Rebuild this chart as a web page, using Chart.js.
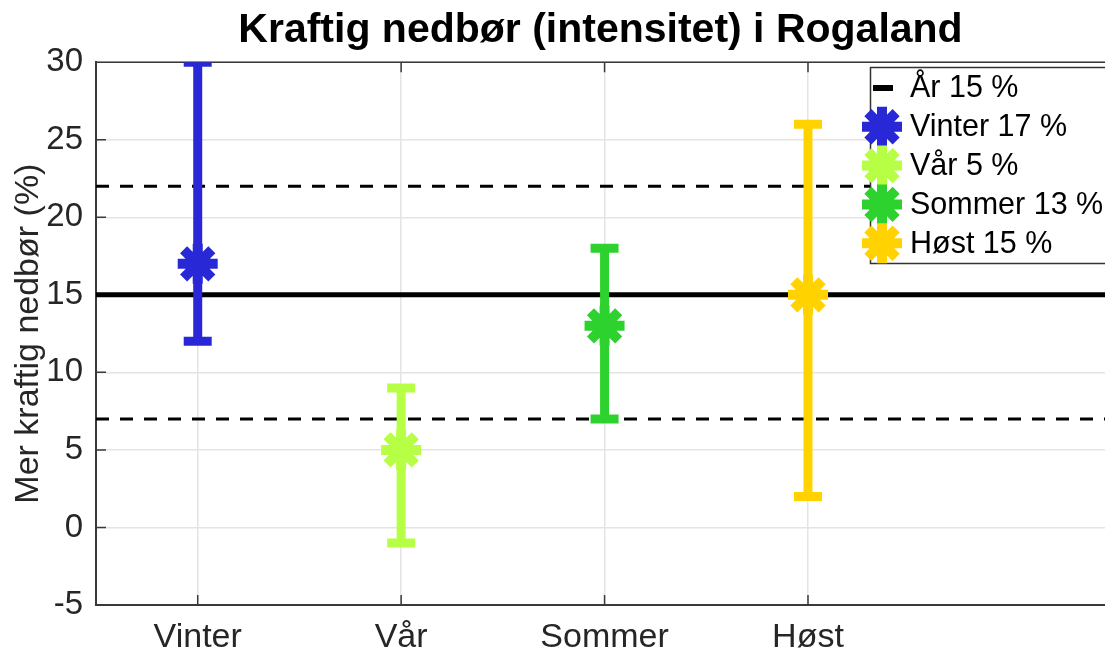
<!DOCTYPE html>
<html>
<head>
<meta charset="utf-8">
<script src="https://cdn.jsdelivr.net/npm/chart.js@4.4.1/dist/chart.umd.min.js"></script>
<style>
  html, body { margin: 0; padding: 0; background: #fff; }
  #wrap { width: 1105px; height: 651px; }
</style>
</head>
<body>
<div id="wrap"><canvas id="c" width="1105" height="651"></canvas></div>
<script>
// ---- data ----
const categories = ['Vinter', 'Vår', 'Sommer', 'Høst'];
const means = [17, 5, 13, 15];
const lows = [12, -1, 7, 2];
const highs = [30, 9, 18, 26];
const seasonColors = ['#2828d6', '#b6ff44', '#2ed22e', '#ffd200'];
const annualLabel = 'År';
const annualMean = 15;
const annualLow = 7;
const annualHigh = 22;
const yTickValues = [-5, 0, 5, 10, 15, 20, 25, 30];
const titleText = 'Kraftig nedbør (intensitet) i Rogaland';
const yTitle = 'Mer kraftig nedbør (%)';

const FONT = "'Liberation Sans', Arial, Helvetica, sans-serif";
const xMin = 0.5, xMax = 5.46;

const datasets = [];
datasets.push({
  type: 'line', label: annualLabel + ' ' + annualMean + ' %',
  data: [{x: xMin, y: annualMean}, {x: xMax, y: annualMean}],
  borderColor: '#000', borderWidth: 5, pointRadius: 0, order: 10
});
[annualLow, annualHigh].forEach(v => datasets.push({
  type: 'line', label: 'ci',
  data: [{x: xMin, y: v}, {x: xMax, y: v}],
  borderColor: '#000', borderWidth: 3, borderDash: [13, 11], pointRadius: 0, order: 10
}));
categories.forEach((c, i) => {
  datasets.push({
    type: 'line', label: 'err' + c,
    data: [{x: i + 1, y: lows[i]}, {x: i + 1, y: highs[i]}],
    borderColor: seasonColors[i], backgroundColor: seasonColors[i],
    borderWidth: 9, pointStyle: 'line', pointRadius: 14, pointBorderWidth: 9,
    pointBorderColor: seasonColors[i], pointHoverRadius: 14, order: 5
  });
  datasets.push({
    type: 'scatter', label: c + ' ' + means[i] + ' %',
    data: [{x: i + 1, y: means[i]}],
    borderColor: seasonColors[i], backgroundColor: seasonColors[i],
    pointStyle: 'star', pointRadius: 20, pointBorderWidth: 10, pointHoverRadius: 20,
    order: 1
  });
});

const frame = {
  id: 'frame',
  beforeDatasetsDraw(chart) {
    const {ctx, chartArea: a, scales: {x, y}} = chart;
    ctx.save();
    ctx.strokeStyle = '#3a3a3a';
    ctx.lineWidth = 1.5;
    ctx.beginPath();
    ctx.moveTo(a.left, a.top); ctx.lineTo(a.right, a.top);
    categories.forEach((c, i) => {
      const px = x.getPixelForValue(i + 1);
      ctx.moveTo(px, a.bottom); ctx.lineTo(px, a.bottom - 10);
      ctx.moveTo(px, a.top); ctx.lineTo(px, a.top + 10);
    });
    yTickValues.forEach(v => {
      const py = y.getPixelForValue(v);
      ctx.moveTo(a.left, py); ctx.lineTo(a.left + 10, py);
    });
    ctx.stroke();
    ctx.restore();
  },
  afterDraw(chart) {
    const {ctx} = chart;
    ctx.save();
    ctx.fillStyle = '#fff';
    ctx.strokeStyle = '#333';
    ctx.lineWidth = 1.5;
    ctx.beginPath();
    ctx.rect(870.5, 67.5, 260, 196);
    ctx.fill(); ctx.stroke();
    const items = [{label: annualLabel + ' ' + annualMean + ' %', color: '#000', line: true}]
      .concat(categories.map((c, i) => ({label: c + ' ' + means[i] + ' %', color: seasonColors[i]})));
    ctx.font = '30.5px ' + FONT;
    ctx.textBaseline = 'middle';
    items.forEach((it, i) => {
      const yy = 88 + i * 38.8;
      if (it.line) {
        ctx.strokeStyle = '#000'; ctx.lineWidth = 6;
        ctx.beginPath(); ctx.moveTo(873, yy); ctx.lineTo(893, yy); ctx.stroke();
      } else {
        ctx.strokeStyle = it.color; ctx.fillStyle = it.color; ctx.lineWidth = 10;
        Chart.helpers.drawPoint(ctx, {pointStyle: 'star', radius: 20, borderWidth: 10}, 882, yy);
      }
      ctx.fillStyle = '#000';
      ctx.fillText(it.label, 910, yy + 1);
    });
    ctx.restore();
  }
};

new Chart(document.getElementById('c'), {
  type: 'scatter',
  data: {datasets},
  options: {
    responsive: false,
    animation: false,
    events: [],
    layout: {padding: 0, autoPadding: false},
    plugins: {
      legend: {display: false},
      tooltip: {enabled: false},
      title: {
        display: true, text: titleText, fullSize: false, color: '#000',
        font: {family: FONT, size: 41, weight: 'bold', lineHeight: 1.2},
        padding: {top: 6, bottom: 7}
      }
    },
    scales: {
      x: {
        type: 'linear', min: xMin, max: xMax,
        afterBuildTicks(axis) { axis.ticks = categories.map((c, i) => ({value: i + 1})); },
        afterFit(scale) { scale.height = 46; scale.paddingLeft = 0; scale.paddingRight = 0; },
        ticks: {
          autoSkip: false, maxRotation: 0, padding: 16, color: '#262626',
          font: {family: FONT, size: 34, lineHeight: 1.0},
          callback: v => categories[v - 1]
        },
        grid: {color: '#e4e4e4', lineWidth: 1.5, drawTicks: false},
        border: {display: true, color: '#3a3a3a', width: 2}
      },
      y: {
        min: -5, max: 30,
        afterBuildTicks(axis) { axis.ticks = yTickValues.map(v => ({value: v})); },
        afterFit(scale) { scale.width = 96; },
        ticks: {
          padding: 13, color: '#262626',
          font: {family: FONT, size: 33, lineHeight: 1.2}
        },
        title: {
          display: true, text: yTitle, color: '#262626',
          font: {family: FONT, size: 34, lineHeight: 1.2},
          padding: {top: 8, bottom: 4}
        },
        grid: {color: '#e4e4e4', lineWidth: 1.5, drawTicks: false},
        border: {display: true, color: '#3a3a3a', width: 2}
      }
    }
  },
  plugins: [frame]
});
</script>
</body>
</html>
